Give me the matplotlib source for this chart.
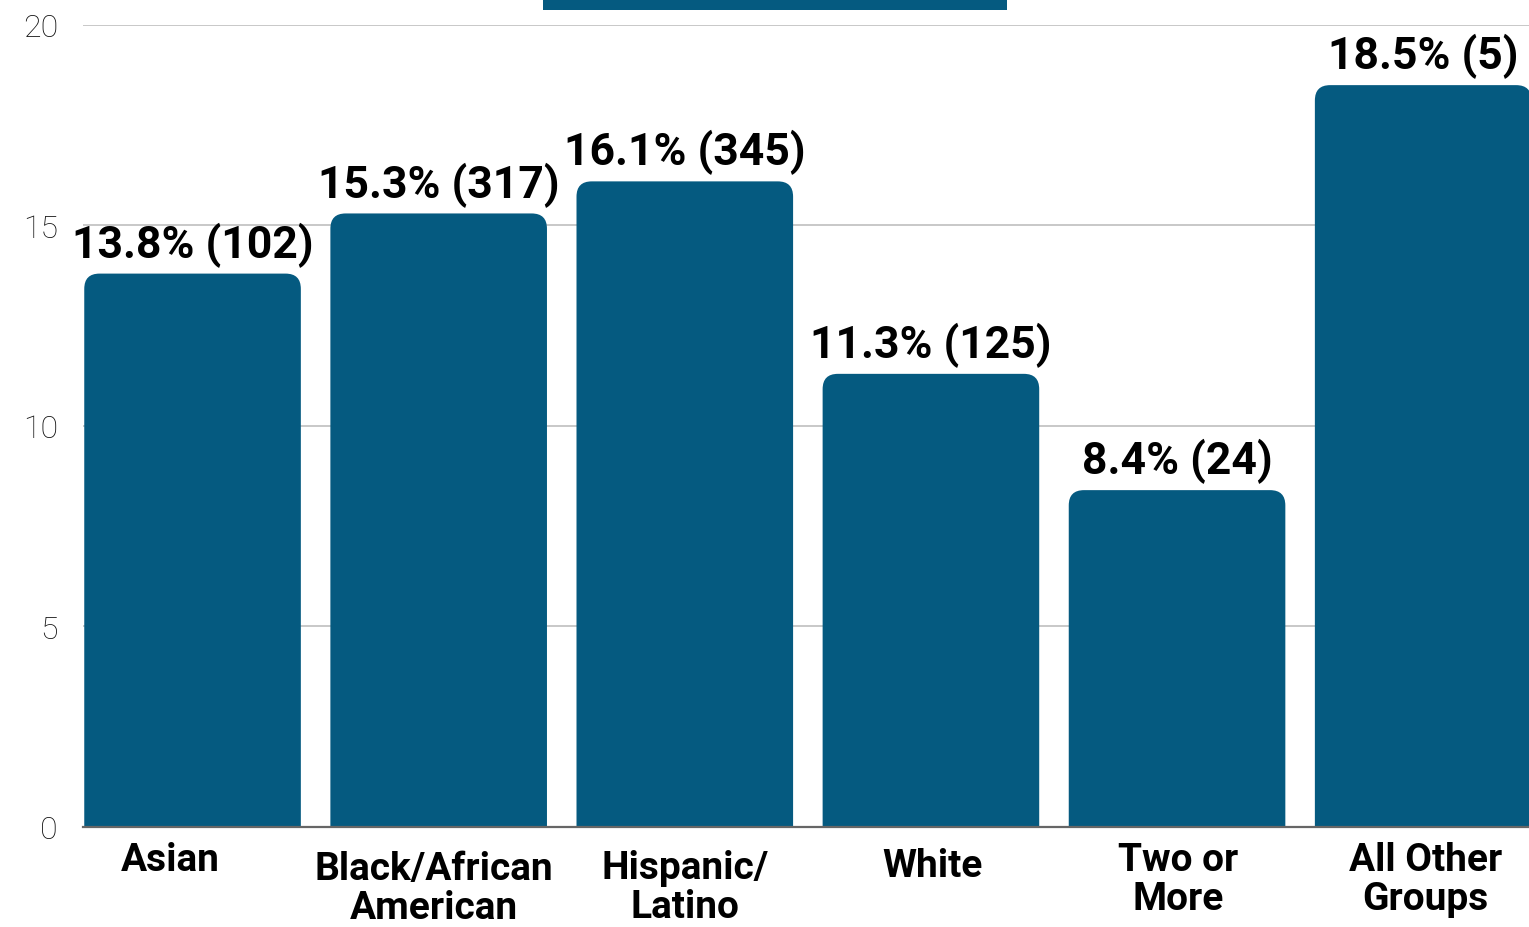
import matplotlib.pyplot as plt
from matplotlib.patches import FancyBboxPatch, Rectangle
from matplotlib.transforms import offset_copy

plt.rcParams["font.family"] = ["Roboto", "DejaVu Sans"]

categories = ["Asian", "Black/African\nAmerican", "Hispanic/\nLatino", "White",
              "Two or\nMore", "All Other\nGroups"]
rates = [13.8, 15.3, 16.1, 11.3, 8.4, 18.5]
counts = [102, 317, 345, 125, 24, 5]

# small per-label nudges of the category labels (pixels), as in the original
label_dx = [-22, -5, 0, 2, 1, 2]
label_dy = [0, -9, -8, -6, 0, 0]

bar_color = "#055a80"
bar_width = 0.88

fig = plt.figure(figsize=(15.29, 9.28), dpi=100)
ax = fig.add_axes([0.0543, 0.1078, 1 - 0.0543, 0.972 - 0.1078])

x = list(range(len(categories)))
bars = ax.bar(x, rates, width=bar_width, color=bar_color, zorder=2)

ax.set_ylim(0, 20)
ax.set_xlim(-0.445, 5.43)

# Rounded top corners: replace each bar with a rounded box that starts below 0
rx = 0.062
aspect = (1 / 40.1) / (1 / 246.2)
for b in bars:
    b.set_visible(False)
    rb = FancyBboxPatch((b.get_x(), -3), b.get_width(), b.get_height() + 3,
                        boxstyle=f"round,pad=0,rounding_size={rx}",
                        mutation_aspect=aspect, facecolor=bar_color,
                        edgecolor="none", zorder=2)
    ax.add_patch(rb)

# Value labels
for xi, r, c in zip(x, rates, counts):
    ax.annotate(f"{r}% ({c})", (xi, r), xytext=(0, 5),
                textcoords="offset points", ha="center", va="bottom",
                fontsize=32, fontweight="bold", color="#000000", zorder=3)

ax.set_yticks([0, 5, 10, 15, 20])
ax.yaxis.grid(True, color="#c4c4c4", linewidth=1.3, zorder=0)
ax.tick_params(axis="y", length=0, pad=18, labelsize=23, labelcolor="#111111")
for lab in ax.get_yticklabels():
    lab.set_fontweight("light")

# Category labels
ax.set_xticks(x)
ax.set_xticklabels([])
ax.tick_params(axis="x", length=0)
for xi, cat, dx, dy in zip(x, categories, label_dx, label_dy):
    tr = offset_copy(ax.get_xaxis_transform(), fig=fig, x=dx, y=-14 + dy,
                     units="dots")
    ax.text(xi, 0, cat, transform=tr, ha="center", va="top", fontsize=28,
            fontweight="bold", color="#000000", linespacing=1.08)

for s in ["top", "right", "left"]:
    ax.spines[s].set_visible(False)
ax.spines["bottom"].set_color("#666666")
ax.spines["bottom"].set_linewidth(1.6)
ax.spines["bottom"].set_zorder(4)

# Dark strip at the top edge (cut-off header)
fig.patches.append(Rectangle((0.355, 0.988), 0.3036, 0.02, transform=fig.transFigure,
                             facecolor=bar_color, edgecolor="none"))

fig.savefig("out.png", dpi=100)
